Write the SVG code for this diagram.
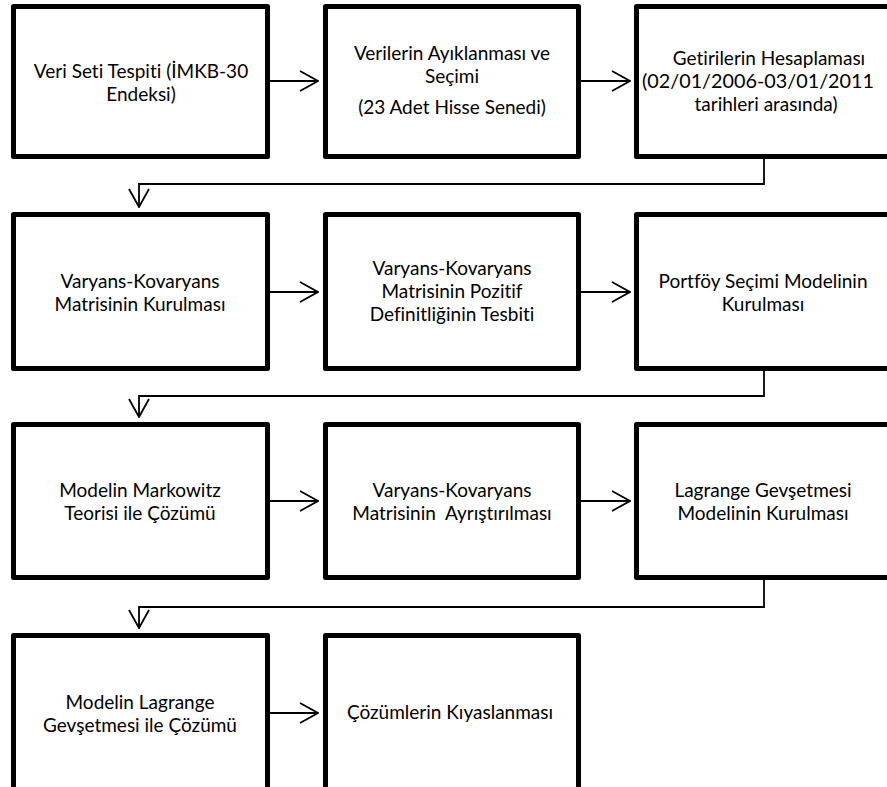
<svg xmlns="http://www.w3.org/2000/svg" width="887" height="787" viewBox="0 0 887 787">
<defs>
<style>
.box{fill:#fff;stroke:#000;stroke-width:5;stroke-linejoin:round}
.t{font-family:Lato,"Liberation Sans",sans-serif;font-size:19px;fill:#000;text-anchor:middle;font-variant-ligatures:none;font-feature-settings:"liga" 0}
.c{fill:none;stroke:#000;stroke-width:1.8}
</style>
<marker id="ah" viewBox="0 0 20 22" refX="19" refY="11" markerWidth="20" markerHeight="22" markerUnits="userSpaceOnUse" orient="auto">
<path d="M1,1 L19,11 L1,21" fill="none" stroke="#000" stroke-width="1.8"/>
</marker>
</defs>
<rect width="887" height="787" fill="#fff"/>
<g id="connectors">
<path class="c" d="M270,81 H318" marker-end="url(#ah)"/>
<path class="c" d="M581,81 H630" marker-end="url(#ah)"/>
<path class="c" d="M764,159 V184 H139 V207" marker-end="url(#ah)"/>
<path class="c" d="M270,292 H318" marker-end="url(#ah)"/>
<path class="c" d="M581,292 H630" marker-end="url(#ah)"/>
<path class="c" d="M764,371 V396 H139 V417" marker-end="url(#ah)"/>
<path class="c" d="M270,501 H318" marker-end="url(#ah)"/>
<path class="c" d="M581,501 H630" marker-end="url(#ah)"/>
<path class="c" d="M764,580 V607 H139 V628" marker-end="url(#ah)"/>
<path class="c" d="M270,713 H318" marker-end="url(#ah)"/>
</g>
<g id="n1"><rect class="box" x="13.5" y="6.5" width="254" height="150"/>
<text class="t" x="141" y="78">Veri Seti Tespiti (İMKB-30</text>
<text class="t" x="141" y="101">Endeksi)</text></g>
<g id="n2"><rect class="box" x="325.5" y="6.5" width="253" height="150"/>
<text class="t" x="452" y="60">Verilerin Ayıklanması ve</text>
<text class="t" x="452" y="83">Seçimi</text>
<text class="t" x="452" y="114">(23 Adet Hisse Senedi)</text></g>
<g id="n3"><rect class="box" x="636.5" y="6.5" width="253" height="150"/>
<text class="t" x="769" y="65">Getirilerin Hesaplaması</text>
<text class="t" x="758" y="88" textLength="232" lengthAdjust="spacingAndGlyphs">(02/01/2006-03/01/2011</text>
<text class="t" x="766" y="111">tarihleri arasında)</text></g>
<g id="n4"><rect class="box" x="13.5" y="214.5" width="254" height="154"/>
<text class="t" x="140" y="288">Varyans-Kovaryans</text>
<text class="t" x="140" y="311">Matrisinin Kurulması</text></g>
<g id="n5"><rect class="box" x="325.5" y="214.5" width="253" height="154"/>
<text class="t" x="452" y="275">Varyans-Kovaryans</text>
<text class="t" x="452" y="298">Matrisinin Pozitif</text>
<text class="t" x="452" y="321">Definitliğinin Tesbiti</text></g>
<g id="n6"><rect class="box" x="636.5" y="214.5" width="253" height="154"/>
<text class="t" x="763" y="288">Portföy Seçimi Modelinin</text>
<text class="t" x="763" y="311">Kurulması</text></g>
<g id="n7"><rect class="box" x="13.5" y="424.5" width="254" height="153"/>
<text class="t" x="140" y="497">Modelin Markowitz</text>
<text class="t" x="140" y="520">Teorisi ile Çözümü</text></g>
<g id="n8"><rect class="box" x="325.5" y="424.5" width="253" height="153"/>
<text class="t" x="452" y="497" xml:space="preserve">Varyans-Kovaryans</text>
<text class="t" x="452" y="520" xml:space="preserve">Matrisinin  Ayrıştırılması</text></g>
<g id="n9"><rect class="box" x="636.5" y="424.5" width="253" height="153"/>
<text class="t" x="763" y="497">Lagrange Gevşetmesi</text>
<text class="t" x="763" y="520">Modelinin Kurulması</text></g>
<g id="n10"><rect class="box" x="13.5" y="635.5" width="254" height="160"/>
<text class="t" x="140" y="709">Modelin Lagrange</text>
<text class="t" x="140" y="732">Gevşetmesi ile Çözümü</text></g>
<g id="n11"><rect class="box" x="325.5" y="635.5" width="253" height="160"/>
<text class="t" x="450" y="719">Çözümlerin Kıyaslanması</text></g>
</svg>
